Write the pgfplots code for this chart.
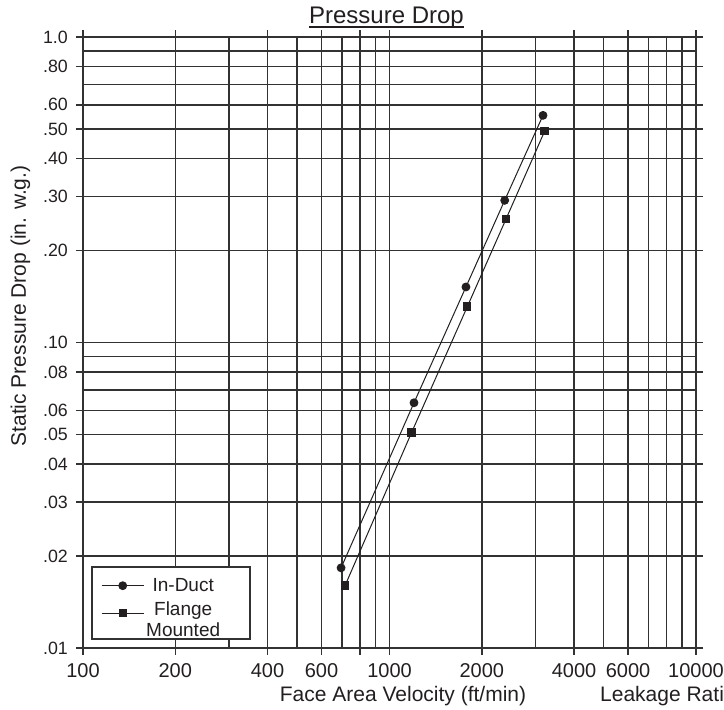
\documentclass[border=0pt]{standalone}
\usepackage{fontspec}
\setmainfont{Liberation Sans}
\usepackage{pgfplots}
\pgfplotsset{compat=1.18}
\definecolor{ink}{RGB}{35,31,32}
\definecolor{gridc}{RGB}{50,50,50}

\begin{document}
\begin{tikzpicture}
\useasboundingbox (0pt,0pt) rectangle (724pt,710pt);
\clip (0pt,0pt) rectangle (724pt,710pt);
\begin{axis}[
    at={(83pt,62pt)}, anchor=south west,
    scale only axis, width=613pt, height=611pt,
    xmode=log, ymode=log,
    xmin=100, xmax=10000, ymin=0.01, ymax=1,
    xtick={100,200,400,600,800,1000,2000,4000,6000,10000},
    xticklabels={100,200,400,600,,1000,2000,4000,6000,10000},
    ytick={0.01,0.02,0.03,0.04,0.05,0.06,0.08,0.1,0.2,0.3,0.4,0.5,0.6,0.8,1},
    yticklabels={.01,.02,.03,.04,.05,.06,.08,.10,.20,.30,.40,.50,.60,.80,1.0},
    minor xtick={300,500,700,900,3000,5000,7000,8000,9000},
    minor ytick={0.07,0.09,0.7,0.9},
    grid=both,
    major grid style={line width=1.5pt, draw=gridc},
    minor grid style={line width=1.5pt, draw=gridc},
    tick align=outside, major tick length=7pt, minor tick length=0pt,
    tick style={line width=1.5pt, draw=gridc},
    axis line style={line width=1.5pt, draw=gridc},
    xticklabel style={font=\fontsize{20}{24}\selectfont, text=ink, inner sep=0pt, yshift=-8pt},
    yticklabel style={font=\fontsize{17.8}{21}\selectfont, text=ink, inner sep=0pt, xshift=-8pt},
    legend style={at={(rel axis cs:0.0294,0.1175)}, anchor=north west,
        draw=none, fill=none, inner sep=0pt, row sep=-8.5pt,
        font=\fontsize{19}{21}\selectfont, text=ink,
        cells={align=center}},
    legend image code/.code={\draw[mark repeat=2, mark phase=2, #1, line width=1pt]
        plot coordinates {(0pt,0pt) (21pt,0pt) (42pt,0pt)};},
]
\filldraw[fill=white, draw=gridc, line width=1.5pt]
    (rel axis cs:0.01468,0.01473) rectangle (rel axis cs:0.27243,0.13257);
\addplot[ink, line width=1pt, mark=*, mark size=3.9pt, mark options={fill=ink}]
    coordinates {(695,0.0183) (1202,0.0635) (1776,0.152) (2376,0.292) (3168,0.554)};
\addlegendentry{In-Duct}
\addplot[ink, line width=1pt, mark=square*, mark size=3.7pt, mark options={fill=ink}]
    coordinates {(716,0.0160) (1181,0.0508) (1794,0.131) (2399,0.2535) (3208,0.492)};
\addlegendentry{\rule{0pt}{27pt}Flange\\Mounted}
\end{axis}
\node[anchor=base, inner sep=0pt, font=\fontsize{24}{28}\selectfont, text=ink] (ttl)
    at (386.5pt,686pt) {Pressure Drop};
\draw[ink, line width=1.2pt] ([yshift=-3pt]ttl.base west) -- ([yshift=-3pt]ttl.base east);
\node[anchor=base, inner sep=0pt, font=\fontsize{21}{25}\selectfont, text=ink]
    at (403pt,8pt) {Face Area Velocity (ft/min)};
\node[anchor=base west, inner sep=0pt, font=\fontsize{21}{25}\selectfont, text=ink]
    at (600pt,8pt) {Leakage Rati};
\node[anchor=base, rotate=90, inner sep=0pt, font=\fontsize{21}{25}\selectfont, text=ink]
    at (26pt,404pt) {Static Pressure Drop (in. w.g.)};
\end{tikzpicture}
\end{document}
